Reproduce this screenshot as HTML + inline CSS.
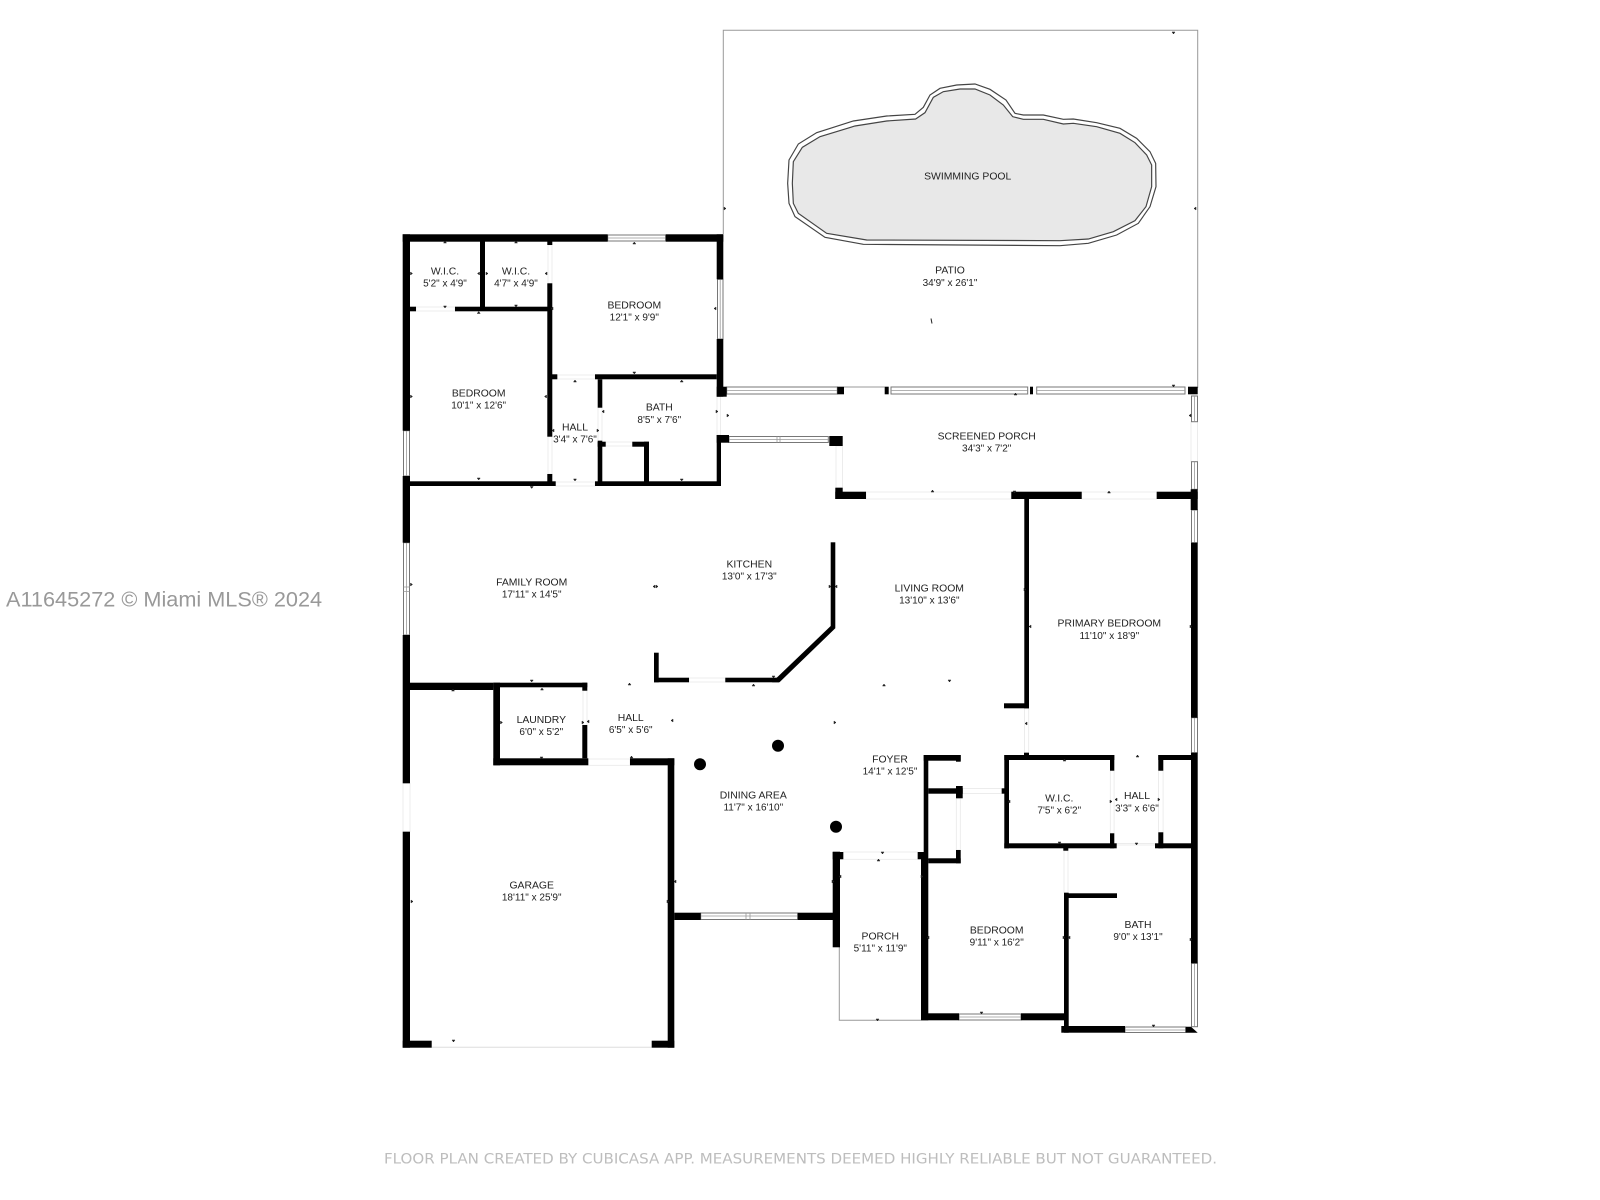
<!DOCTYPE html>
<html><head><meta charset="utf-8"><title>Floor plan</title>
<style>
html,body{margin:0;padding:0;background:#fff;width:1600px;height:1200px;overflow:hidden}
svg{display:block}
.l{font:10.4px "Liberation Sans",sans-serif;fill:#222;text-anchor:middle}
.l:nth-of-type(even){font-size:10px}
.w{fill:#fff;stroke:#777;stroke-width:1}
.c{stroke:#999;stroke-width:.8;fill:none}
.d{fill:#fff;stroke:#e8e8e8;stroke-width:.8}
.t{fill:none;stroke:#999;stroke-width:1}
</style></head><body>
<svg width="1600" height="1200" viewBox="0 0 1600 1200" xmlns="http://www.w3.org/2000/svg">
<rect width="1600" height="1200" fill="#fff"/>
<!-- patio / porch outlines -->
<path class="t" d="M723.3 234V30.3H1197.7V388M844 387H884.700"/>
<path class="t" d="M839.3 947V1020.3H921"/>
<!-- pool -->
<g transform="translate(720 20) scale(.33333)">
<polygon fill="#fff" stroke="#444" stroke-width="3.500" points="585,283 610,262 630,225 660,205 710,195 765,192 810,208 858,240 885,280 910,285 970,285 1030,298 1060,297 1130,308 1200,325 1250,355 1290,395 1307,430 1308,500 1290,560 1255,610 1190,645 1105,670 1020,677 430,673 315,652 225,590 207,550 203,490 207,420 235,372 290,338 400,303 500,288"/>
<polygon fill="#e8e8e8" stroke="#444" stroke-width="3.500" points="587,297 615,278 640,232 670,215 720,207 765,207 810,225 850,255 878,290 910,298 970,298 1030,312 1060,310 1130,320 1200,340 1245,368 1280,405 1295,435 1295,500 1278,560 1245,602 1180,635 1105,657 1020,662 440,660 320,640 235,580 220,550 217,490 220,425 247,382 300,350 405,318 500,303"/>
</g>
<!-- doors -->
<g class="d">
<rect x="416" y="307" width="39" height="4"/><rect x="548" y="245" width="4" height="38.3"/><rect x="548" y="436.7" width="4" height="37.3"/><rect x="557.3" y="375" width="37.7" height="4"/><rect x="598" y="407.7" width="4" height="33"/><rect x="605.7" y="442" width="26.6" height="4"/><rect x="555.7" y="482" width="39.3" height="4"/>
<rect x="717" y="396.7" width="3.6" height="38.3"/><rect x="836" y="446" width="6.5" height="41.7"/><rect x="866" y="492" width="145.3" height="7"/><rect x="1081.7" y="492" width="75" height="7"/><rect x="1191" y="421.7" width="6.5" height="40"/>
<rect x="689" y="678" width="36.3" height="4"/><rect x="583" y="690.7" width="4" height="34.3"/><rect x="588.3" y="759" width="41.7" height="6.3"/><rect x="403" y="783.3" width="7" height="48.4"/>
<rect x="843.3" y="852" width="74.4" height="7.3"/><rect x="956.3" y="798.3" width="4" height="51.7"/><rect x="962.7" y="788.5" width="39" height="5"/><rect x="1024.5" y="708.3" width="4.2" height="44.4"/><rect x="1110.3" y="770.7" width="3.8" height="62.6"/><rect x="1158.5" y="770.7" width="4.6" height="61.6"/><rect x="1116.7" y="843.5" width="38.3" height="1.5"/><rect x="1064" y="850.7" width="4" height="42"/>
</g>
<path stroke="#ddd" stroke-width="1" d="M431.700 1047.200H651.700"/>
<!-- windows -->
<g class="w">
<rect x="607.7" y="235" width="58" height="6"/><rect x="717.5" y="279.3" width="5.5" height="59.7"/><rect x="403.5" y="430.7" width="6" height="45.3"/><rect x="726.7" y="387" width="110.6" height="7"/><rect x="891" y="387" width="136.7" height="7"/><rect x="1036.7" y="387" width="148.3" height="7"/><rect x="729" y="436.5" width="99.3" height="6"/><rect x="403.5" y="542.7" width="6" height="92.3"/><rect x="700.7" y="913" width="97" height="6.5"/><rect x="959" y="1014" width="62" height="6"/><rect x="1125" y="1027" width="60.7" height="5.5"/>
<rect x="1191.5" y="396" width="6" height="25.7"/><rect x="1191.5" y="461.7" width="6" height="27.6"/><rect x="1191.5" y="510" width="6" height="32.7"/><rect x="1191.5" y="717.7" width="6" height="35"/><rect x="1191.5" y="963.3" width="6" height="63.4"/>
</g>
<path class="c" d="M608 238H665.5M720.2 279.5V339M406.5 431V476M727 390.5H837M891 390.5H1027.5M1037 390.5H1185M729 439.5H828M406.5 543V635M701 916H797.5M959 1017H1021M1125 1030H1185.5M1194.5 396V421.7M1194.5 462V489M1194.5 510V542.7M1194.5 718V752.7M1194.5 963.5V1026.5M777 436.5V442.5M780 436.5V442.5M403.5 587H409.5M403.5 591.5H409.5M746 913V919.5M750 913V919.5"/>
<!-- walls -->
<g fill="#000">
<rect x="402.7" y="234.3" width="205" height="7.4"/><rect x="665.7" y="234.3" width="57.6" height="7.4"/>
<rect x="402.7" y="234.3" width="7.3" height="196.4"/><rect x="402.7" y="476" width="7.3" height="66.7"/><rect x="402.7" y="635" width="7.3" height="148.3"/><rect x="402.7" y="831.7" width="7.3" height="216"/>
<rect x="716.7" y="234.3" width="6.6" height="45"/><rect x="716.7" y="339" width="6.6" height="57.7"/><rect x="716.7" y="386.7" width="10" height="10"/>
<rect x="480" y="241" width="5" height="67"/><rect x="410" y="306.7" width="6" height="4.6"/><rect x="455" y="306.7" width="92.7" height="4.6"/>
<rect x="547.3" y="241" width="5" height="4"/><rect x="547.3" y="283.3" width="5" height="153.4"/><rect x="547.3" y="474" width="5" height="12"/>
<rect x="552" y="374.3" width="5.3" height="5"/><rect x="595" y="374.3" width="121.7" height="5"/>
<rect x="597.7" y="379.3" width="4.6" height="28.4"/><rect x="597.7" y="440.7" width="4.6" height="45.3"/><rect x="597.7" y="441.7" width="8" height="5"/><rect x="632.3" y="441.7" width="16.7" height="5"/><rect x="644" y="441.7" width="5" height="44.3"/>
<rect x="410" y="481.3" width="145.7" height="4.7"/><rect x="595" y="481.3" width="126" height="4.7"/><rect x="716.7" y="435" width="4.3" height="51"/><rect x="716.7" y="435" width="12.3" height="7.7"/>
<rect x="829.3" y="436" width="13.4" height="10"/><rect x="835.3" y="487.7" width="7.4" height="11.3"/><rect x="835.3" y="491.7" width="30.7" height="7.3"/><rect x="1011.3" y="491.7" width="70.4" height="7.3"/><rect x="1156.7" y="491.7" width="41" height="7.3"/>
<rect x="1024.3" y="499" width="4.7" height="209.3"/><rect x="1004" y="703.3" width="25" height="5"/><rect x="1024" y="752.7" width="5" height="3"/>
<rect x="1190.7" y="489.3" width="7" height="20.7"/><rect x="1191" y="542.7" width="6.7" height="175"/><rect x="1191" y="752.7" width="6.7" height="210.6"/>
<rect x="837.3" y="386.7" width="6.7" height="7.6"/><rect x="884.7" y="386.7" width="4" height="7.6"/><rect x="1030" y="386.7" width="3" height="7.6"/><rect x="1188" y="386.7" width="9.7" height="7.6"/>
<rect x="830.7" y="542.3" width="4.6" height="86"/><polygon points="830.7,626 835.3,628.3 779.5,682.3 772,682.3"/><rect x="654" y="677.7" width="35" height="4.6"/><rect x="725.3" y="677.7" width="53.7" height="4.6"/><rect x="654" y="652.7" width="4.7" height="29.6"/>
<rect x="410" y="682.7" width="83.3" height="7.3"/><rect x="493.3" y="682.7" width="94" height="4.6"/><rect x="493.3" y="682.7" width="6.7" height="82.6"/><rect x="493.3" y="758.3" width="95" height="7"/><rect x="582.3" y="682.7" width="5" height="8"/><rect x="582.3" y="725" width="5" height="33.3"/>
<rect x="630" y="758.3" width="44.3" height="7"/><rect x="667.7" y="758.3" width="6.6" height="289.4"/><rect x="402.7" y="1040.7" width="29" height="7"/><rect x="651.7" y="1040.7" width="22.6" height="7"/>
<rect x="674.3" y="912.7" width="26.4" height="7.3"/><rect x="797.7" y="912.7" width="35.6" height="7.3"/><rect x="832.7" y="851.7" width="7.3" height="95.6"/><rect x="832.7" y="852" width="10.6" height="7.3"/>
<rect x="923.7" y="755" width="4.6" height="105"/><rect x="921" y="859" width="7.3" height="161.3"/><rect x="917.7" y="852" width="8" height="7.3"/>
<rect x="923.7" y="755" width="37" height="5.7"/><rect x="956" y="755" width="4.7" height="6.7"/><rect x="928.3" y="788.3" width="34.4" height="5.4"/><rect x="956" y="786" width="6.7" height="12.3"/><rect x="956" y="850" width="4.7" height="13.3"/><rect x="928.3" y="858.3" width="32.4" height="5"/><rect x="1001.7" y="788.3" width="7.3" height="5.4"/>
<rect x="1004.3" y="755" width="110" height="5"/><rect x="1004.3" y="755" width="4.7" height="93.3"/><rect x="1004.3" y="843.3" width="112.4" height="5"/><rect x="1110" y="755" width="4.3" height="15.7"/><rect x="1110" y="833.3" width="4.3" height="15"/>
<rect x="1158.3" y="755" width="5" height="15.7"/><rect x="1158.3" y="832.3" width="5" height="16"/><rect x="1158.3" y="755" width="32.7" height="5"/><rect x="1155" y="843.3" width="36" height="5"/>
<rect x="1063.3" y="848" width="5" height="2.7"/><rect x="1064" y="892.7" width="4.7" height="140"/><rect x="1064" y="893.3" width="53" height="4.7"/><rect x="1061.3" y="1026" width="63.7" height="6.7"/><polygon points="1185.7,1026.7 1191,1026.7 1197.7,1032.7 1185.7,1032.7"/>
<rect x="921" y="1013.3" width="38" height="7"/><rect x="1021" y="1013.3" width="44" height="7"/>
<circle cx="700" cy="764.3" r="6"/><circle cx="778" cy="745.7" r="6"/><circle cx="836" cy="826.7" r="6"/>
</g>
<!-- dimension arrowheads -->
<path fill="#222" stroke="#222" stroke-width=".5" d="M443.5 243h3l-1.500-2zM514.500 243h3l-1.500-2zM632.800 244h3l-1.500-2zM477.200 313.500h3l-1.500-2zM573.500 382h3l-1.500-2zM680.200 382h3l-1.500-2zM443.500 306h3l-1.500 2zM514.500 305h3l-1.500 2zM632.800 372h3l-1.500 2zM477.200 478h3l-1.500 2zM573.500 479h3l-1.500 2zM680.200 479h3l-1.500 2zM530.200 486.500h3l-1.500 2zM530.200 680h3l-1.500 2zM540.500 690h3l-1.500-2zM451.500 691h3l-1.500-2zM1172 32h3l-1.500 2zM931 492h3l-1.500-2zM1107.500 493h3l-1.500-2zM1013 491h3l-1.500 2zM1172 385h3l-1.500 2zM1014 395h3l-1.500-2zM1063 761h3l-1.500-2zM1058 842h3l-1.500 2zM1136 757h3l-1.500-2zM1135 843h3l-1.500 2zM881 852h3l-1.500 2zM877 861h3l-1.500-2zM876 1019h3l-1.500 2zM980 1012h3l-1.500 2zM1152 1025h3l-1.500 2zM628 685h3l-1.500-2zM452 1040h3l-1.500 2zM752 686h3l-1.500-2zM772 676h3l-1.500 2zM540 757h3l-1.500 2zM630 758h3l-1.500-2zM882.500 686h3l-1.500-2zM948 680h3l-1.500 2z
M410.500 272v3l2-1.500zM479.500 272v3l-2-1.500zM486 272v3l2-1.500zM547 272v3l-2-1.500zM553 307v3l-2-1.500zM716 307v3l-2-1.500zM410.500 395v3l2-1.500zM546.500 395v3l-2-1.500zM554 429v3l-2-1.500zM597 429v3l2-1.500zM604 410v3l-2-1.500zM716 410v3l2-1.500zM727 414v3l2-1.500zM410.500 583v3l2-1.500zM655 585v3l-2-1.500zM656 585v3l2-1.500zM829 585v3l2-1.500zM837 585v3l-2-1.500zM1024 588v3l2-1.500zM1031 625v3l-2-1.500zM1190 625v3l2-1.500zM411 900v3l2-1.500zM667 900v3l2-1.500zM676 880v3l-2-1.500zM832 880v3l2-1.500zM500.500 721v3l2-1.500zM582 721v3l2-1.500zM589 720v3l-2-1.500zM673 719v3l-2-1.500zM834 721v3l2-1.500zM1027 722v3l-2-1.500zM1010 800v3l-2-1.500zM1110 800v3l2-1.500zM1117 798v3l-2-1.500zM1158 798v3l2-1.500zM929 936v3l-2-1.500zM1063 936v3l2-1.500zM1070 936v3l-2-1.500zM1190 938v3l2-1.500zM841 875v3l-2-1.500zM921 875v3l2-1.500zM724 207v3l2-1.500zM1196 207v3l-2-1.500zM1191 414v3l-2-1.500z"/>
<path stroke="#222" stroke-width="1" d="M931 318.500L932 323.500"/>
<!-- labels -->
<text class="l" x="950" y="273.700">PATIO</text><text class="l" x="950" y="286">34'9" x 26'1"</text>
<text class="l" x="445" y="274.400">W.I.C.</text><text class="l" x="445" y="286.400">5'2" x 4'9"</text>
<text class="l" x="516" y="274.400">W.I.C.</text><text class="l" x="516" y="286.400">4'7" x 4'9"</text>
<text class="l" x="634.300" y="308.400">BEDROOM</text><text class="l" x="634.300" y="320.700">12'1" x 9'9"</text>
<text class="l" x="478.700" y="396.700">BEDROOM</text><text class="l" x="478.700" y="408.700">10'1" x 12'6"</text>
<text class="l" x="575" y="430.700">HALL</text><text class="l" x="575" y="442.700">3'4" x 7'6"</text>
<text class="l" x="659.300" y="410.700">BATH</text><text class="l" x="659.300" y="423">8'5" x 7'6"</text>
<text class="l" x="986.700" y="439.700">SCREENED PORCH</text><text class="l" x="986.700" y="451.700">34'3" x 7'2"</text>
<text class="l" x="531.700" y="585.400">FAMILY ROOM</text><text class="l" x="531.700" y="597.400">17'11" x 14'5"</text>
<text class="l" x="749.300" y="567.400">KITCHEN</text><text class="l" x="749.300" y="579.700">13'0" x 17'3"</text>
<text class="l" x="929.300" y="591.700">LIVING ROOM</text><text class="l" x="929.300" y="603.700">13'10" x 13'6"</text>
<text class="l" x="1109.300" y="626.700">PRIMARY BEDROOM</text><text class="l" x="1109.300" y="639">11'10" x 18'9"</text>
<text class="l" x="541.300" y="723">LAUNDRY</text><text class="l" x="541.300" y="735">6'0" x 5'2"</text>
<text class="l" x="630.700" y="721">HALL</text><text class="l" x="630.700" y="733">6'5" x 5'6"</text>
<text class="l" x="531.700" y="888.700">GARAGE</text><text class="l" x="531.700" y="900.700">18'11" x 25'9"</text>
<text class="l" x="753.300" y="798.400">DINING AREA</text><text class="l" x="753.300" y="810.400">11'7" x 16'10"</text>
<text class="l" x="890" y="762.700">FOYER</text><text class="l" x="890" y="774.700">14'1" x 12'5"</text>
<text class="l" x="880.300" y="939.700">PORCH</text><text class="l" x="880.300" y="951.700">5'11" x 11'9"</text>
<text class="l" x="996.700" y="933.700">BEDROOM</text><text class="l" x="996.700" y="945.700">9'11" x 16'2"</text>
<text class="l" x="1059.300" y="801.400">W.I.C.</text><text class="l" x="1059.300" y="813.700">7'5" x 6'2"</text>
<text class="l" x="1137" y="799">HALL</text><text class="l" x="1137" y="811.400">3'3" x 6'6"</text>
<text class="l" x="1138" y="928">BATH</text><text class="l" x="1138" y="940">9'0" x 13'1"</text>
<text class="l" x="967.700" y="179.400">SWIMMING POOL</text>
<text x="6" y="606.700" font-family="Liberation Sans, sans-serif" font-size="21.700" fill="#999">A11645272 © Miami MLS® 2024</text>
<text x="384" y="1163.500" font-family="DejaVu Sans, sans-serif" font-size="14" fill="#bdbdbd" textLength="833" lengthAdjust="spacingAndGlyphs">FLOOR PLAN CREATED BY CUBICASA APP. MEASUREMENTS DEEMED HIGHLY RELIABLE BUT NOT GUARANTEED.</text>
</svg>
</body></html>
